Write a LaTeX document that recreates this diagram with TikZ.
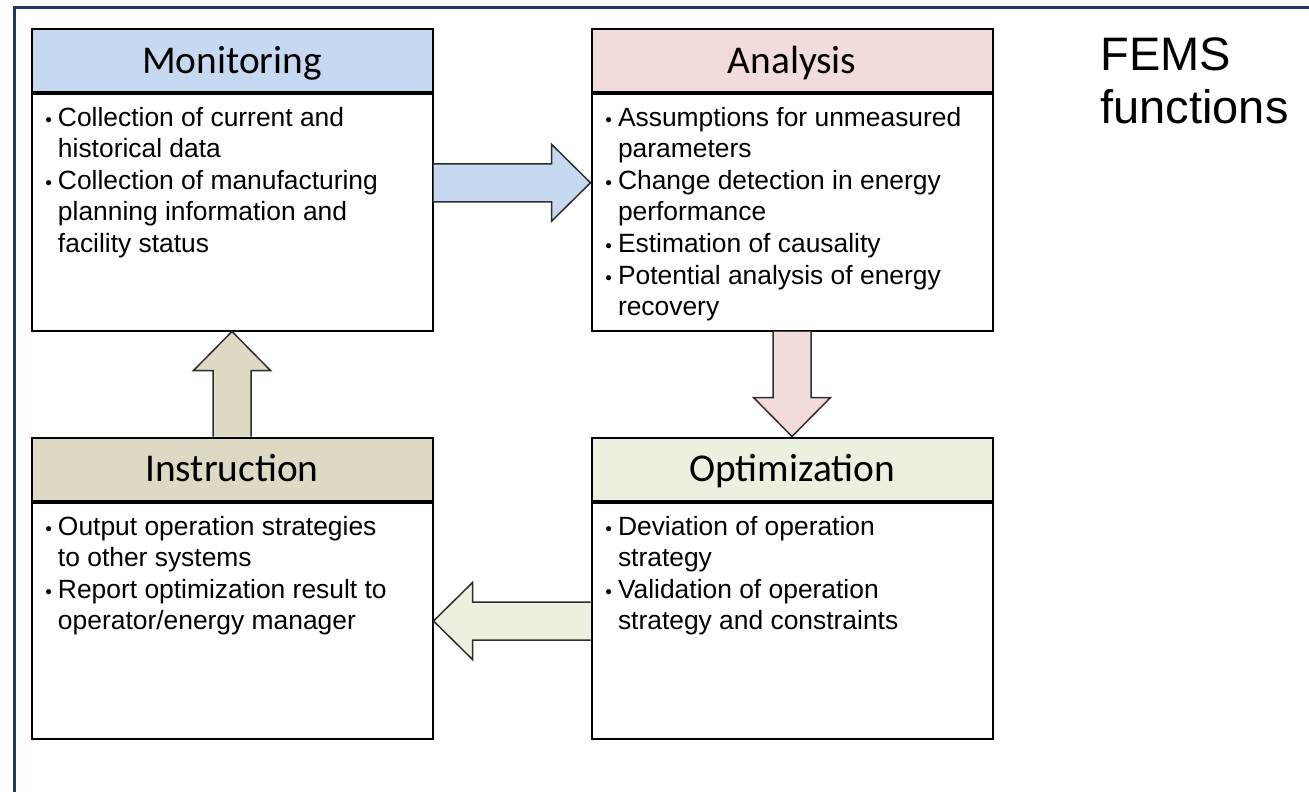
\documentclass[tikz,border=0pt]{standalone}
\usepackage{fontspec}
\setmainfont{Liberation Sans}
\newfontfamily\titlefont{Carlito}
\usetikzlibrary{calc}

\definecolor{framenavy}{RGB}{31,56,100}
\definecolor{monblue}{RGB}{198,217,241}
\definecolor{anapink}{RGB}{242,220,219}
\definecolor{optgreen}{RGB}{235,241,222}
\definecolor{instan}{RGB}{221,217,195}
\definecolor{arrowgray}{RGB}{45,45,45}

% text of a box body: fixed size, lines from the top
\newcommand\boxtext[1]{\parbox[c][118pt][t]{200.5pt}{\fontsize{13.2}{15.75}\selectfont
	\raggedright\leftskip=13.25pt\rule{0pt}{16pt}#1}}
\newcommand\bul{\leavevmode\llap{\fontsize{9.5}{9.5}\selectfont\textbullet\hspace{3pt}}}

% block arrow between two points
\newcommand\fatarrow[3]{%
	\draw[fat=#3] let \p1=(#1), \p2=(#2), \n1={atan2(\y2-\y1,\x2-\x1)} in
		($(\p1)+(\n1+90:9.5pt)$) -- ($(\p2)+(\n1+180:19.5pt)+(\n1+90:9.5pt)$)
		-- ($(\p2)+(\n1+180:19.5pt)+(\n1+90:19.25pt)$) -- (\p2)
		-- ($(\p2)+(\n1+180:19.5pt)+(\n1-90:19.25pt)$)
		-- ($(\p2)+(\n1+180:19.5pt)+(\n1-90:9.5pt)$) -- ($(\p1)+(\n1-90:9.5pt)$);
}

\tikzset{
	head/.style={draw, line width=1pt, fill=#1, anchor=north west, inner sep=0pt,
		minimum width=200.5pt, minimum height=31.75pt,
		font=\titlefont\fontsize{19.7}{20}\selectfont, text height=12.7pt, text depth=0pt},
	body/.style={draw, line width=1pt, fill=white, inner sep=0pt, anchor=north},
	fat/.style={draw=arrowgray, line width=0.75pt, fill=#1}
}

\begin{document}
\begin{tikzpicture}[x=0.5pt, y=-0.5pt]
	\useasboundingbox (0,0) rectangle (1309,791);
	\begin{scope}
		\clip (0,0) rectangle (1309,791);
		\draw[framenavy, line width=1.5pt] (14,900) -- (14,8) -- (1400,8);
	\end{scope}

	\node[head=monblue] (monhead) at (30.5,28) {Monitoring};
	\node[body] (monbody) at (monhead.south) {\boxtext{%
		\bul Collection of current and\\historical data\\
		\bul Collection of manufacturing\\planning information and\\facility status}};

	\node[head=anapink] (anahead) at (590.5,28) {Analysis};
	\node[body] (anabody) at (anahead.south) {\boxtext{%
		\bul Assumptions for unmeasured\\parameters\\
		\bul Change detection in energy\\performance\\
		\bul Estimation of causality\\
		\bul Potential analysis of energy\\recovery}};

	\node[head=instan] (inshead) at (30.5,436.5) {Instruction};
	\node[body] (insbody) at (inshead.south) {\boxtext{%
		\bul Output operation strategies\\to other systems\\
		\bul Report optimization result to\\operator/energy manager}};

	\node[head=optgreen] (opthead) at (590.5,436.5) {Optimization};
	\node[body] (optbody) at (opthead.south) {\boxtext{%
		\bul Deviation of operation\\strategy\\
		\bul Validation of operation\\strategy and constraints}};

	\fatarrow{$(monhead.north east)!.51!(monbody.south east)$}{$(anahead.north west)!.51!(anabody.south west)$}{monblue}
	\fatarrow{anabody.south}{opthead.north}{anapink}
	\fatarrow{optbody.west}{insbody.east}{optgreen}
	\fatarrow{inshead.north}{monbody.south}{instan}

	\node[anchor=north west, align=left, inner sep=0pt,
		font=\fontsize{23.5}{26.5}\selectfont] (fems) at (1100,37) {FEMS\\functions};
\end{tikzpicture}
\end{document}
